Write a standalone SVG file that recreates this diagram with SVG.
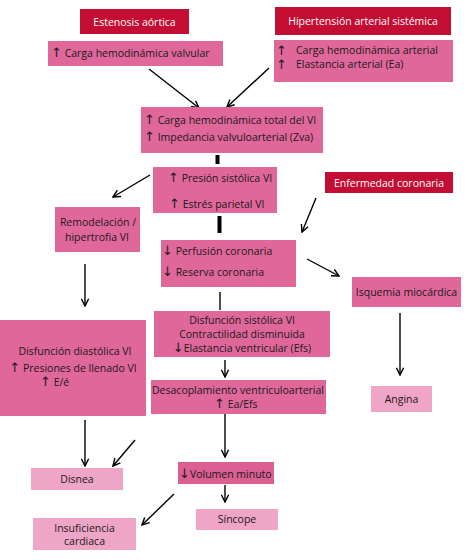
<svg xmlns="http://www.w3.org/2000/svg" width="474" height="560" viewBox="0 0 474 560">
<defs>
<style>
.red{fill:#c40d33}
.pk{fill:#e0679a}
.lp{fill:#efa6c6}
.vm{fill:#db5f93}
text{font-family:"Open Sans","Noto Sans","DejaVu Sans",sans-serif;font-size:10.5px;fill:#1a1a1a}
.ar{font-family:"DejaVu Sans",sans-serif;font-size:13px}
.w{fill:#ffffff}
.c{text-anchor:middle}
.ln{stroke:#000;stroke-width:1.4;fill:none}
.bar{stroke:#000;stroke-width:4;fill:none}
</style>
<marker id="ah" viewBox="0 0 10 10" refX="9" refY="5" markerWidth="9" markerHeight="9" markerUnits="userSpaceOnUse" orient="auto">
<path d="M1,1 L9,5 L1,9" fill="none" stroke="#000" stroke-width="1.6"/>
</marker>
</defs>
<rect width="474" height="560" fill="#fff"/>

<g id="connectors">
<line class="ln" x1="149" y1="69" x2="199" y2="108" marker-end="url(#ah)"/>
<line class="ln" x1="269" y1="68" x2="227" y2="107" marker-end="url(#ah)"/>
<line class="bar" x1="217.5" y1="155" x2="217.5" y2="164"/>
<line class="ln" x1="150" y1="175" x2="113" y2="197" marker-end="url(#ah)"/>
<line class="ln" x1="316" y1="198" x2="302" y2="232" marker-end="url(#ah)"/>
<line class="bar" x1="219.5" y1="216" x2="219.5" y2="233"/>
<line class="ln" x1="85" y1="264" x2="85" y2="306" marker-end="url(#ah)"/>
<line class="ln" x1="307" y1="259" x2="339" y2="276" marker-end="url(#ah)"/>
<line class="ln" x1="220" y1="292" x2="220" y2="310"/>
<line class="ln" x1="400" y1="313" x2="400" y2="375" marker-end="url(#ah)"/>
<line class="ln" x1="225" y1="360" x2="225" y2="377" marker-end="url(#ah)"/>
<line class="ln" x1="225" y1="414" x2="225" y2="457" marker-end="url(#ah)"/>
<line class="ln" x1="85" y1="420" x2="85" y2="466" marker-end="url(#ah)"/>
<line class="ln" x1="135" y1="440" x2="113" y2="466" marker-end="url(#ah)"/>
<line class="ln" x1="225" y1="485" x2="225" y2="502" marker-end="url(#ah)"/>
<line class="ln" x1="174" y1="494" x2="142" y2="525" marker-end="url(#ah)"/>
</g>

<g id="estenosis">
<rect class="red" x="80" y="9" width="109" height="25"/>
<text class="w c" x="134.5" y="25.5">Estenosis aórtica</text>
</g>
<g id="hipertension">
<rect class="red" x="275" y="7" width="176" height="28"/>
<text class="w c" x="363" y="24.5">Hipertensión arterial sistémica</text>
</g>
<g id="carga-valvular">
<rect class="pk" x="48" y="41" width="175" height="25"/>
<text x="51" y="57"><tspan class="ar">↑</tspan> Carga hemodinámica valvular</text>
</g>
<g id="carga-arterial">
<rect class="pk" x="274" y="40" width="179" height="42"/>
<text class="ar" x="276" y="55">↑</text><text x="296" y="54">Carga hemodinámica arterial</text>
<text class="ar" x="276" y="69">↑</text><text x="296" y="68">Elastancia arterial (Ea)</text>
</g>
<g id="carga-total">
<rect class="pk" x="141" y="107" width="182" height="46"/>
<text x="144" y="124"><tspan class="ar">↑</tspan> Carga hemodinámica total del VI</text>
<text x="144" y="141"><tspan class="ar">↑</tspan> Impedancia valvuloarterial (Zva)</text>
</g>
<g id="presion">
<rect class="pk" x="153" y="167" width="124" height="46"/>
<text x="168" y="182"><tspan class="ar">↑</tspan> Presión sistólica VI</text>
<text x="169" y="208"><tspan class="ar">↑</tspan>  Estrés parietal VI</text>
</g>
<g id="enfermedad-coronaria">
<rect class="red" x="325" y="172" width="128" height="21"/>
<text class="w c" x="389" y="186.5">Enfermedad coronaria</text>
</g>
<g id="remodelacion">
<rect class="pk" x="55" y="207" width="85" height="45"/>
<text class="c" x="98" y="226">Remodelación /</text>
<text class="c" x="97" y="241">hipertrofia VI</text>
</g>
<g id="perfusion">
<rect class="pk" x="161" y="240" width="135" height="47"/>
<text x="162" y="255"><tspan class="ar">↓</tspan> Perfusión coronaria</text>
<text x="162" y="276"><tspan class="ar">↓</tspan> Reserva coronaria</text>
</g>
<g id="isquemia">
<rect class="pk" x="352" y="277" width="109" height="30"/>
<text class="c" x="406.5" y="295.5">Isquemia miocárdica</text>
</g>
<g id="disfuncion-sistolica">
<rect class="pk" x="154" y="311" width="176" height="46"/>
<text class="c" x="242" y="324">Disfunción sistólica VI</text>
<text class="c" x="242" y="338">Contractilidad disminuida</text>
<text class="c" x="242" y="352"><tspan class="ar">↓</tspan>Elastancia ventricular (Efs)</text>
</g>
<g id="disfuncion-diastolica">
<rect class="pk" x="0" y="320" width="146" height="96"/>
<text class="c" x="75" y="355">Disfunción diastólica VI</text>
<text class="c" x="73" y="372"><tspan class="ar">↑</tspan> Presiones de llenado VI</text>
<text x="40" y="386"><tspan class="ar">↑</tspan> E/é</text>
</g>
<g id="angina">
<rect class="lp" x="371" y="386" width="61" height="26"/>
<text class="c" x="401.5" y="402.5">Angina</text>
</g>
<g id="desacoplamiento">
<rect class="pk" x="151" y="380" width="175" height="34"/>
<text class="c" x="238" y="394">Desacoplamiento ventriculoarterial</text>
<text x="214" y="408"><tspan class="ar">↑</tspan> Ea/Efs</text>
</g>
<g id="disnea">
<rect class="lp" x="31" y="468" width="92" height="22"/>
<text class="c" x="77" y="482.5">Disnea</text>
</g>
<g id="volumen">
<rect class="vm" x="178" y="462" width="96" height="22"/>
<text x="179" y="478"><tspan class="ar">↓</tspan>Volumen minuto</text>
</g>
<g id="sincope">
<rect class="lp" x="196" y="509" width="82" height="21"/>
<text class="c" x="237" y="523">Síncope</text>
</g>
<g id="insuficiencia">
<rect class="lp" x="33" y="518" width="103" height="32"/>
<text class="c" x="84.5" y="532">Insuficiencia</text>
<text class="c" x="84.5" y="545">cardiaca</text>
</g>
</svg>
